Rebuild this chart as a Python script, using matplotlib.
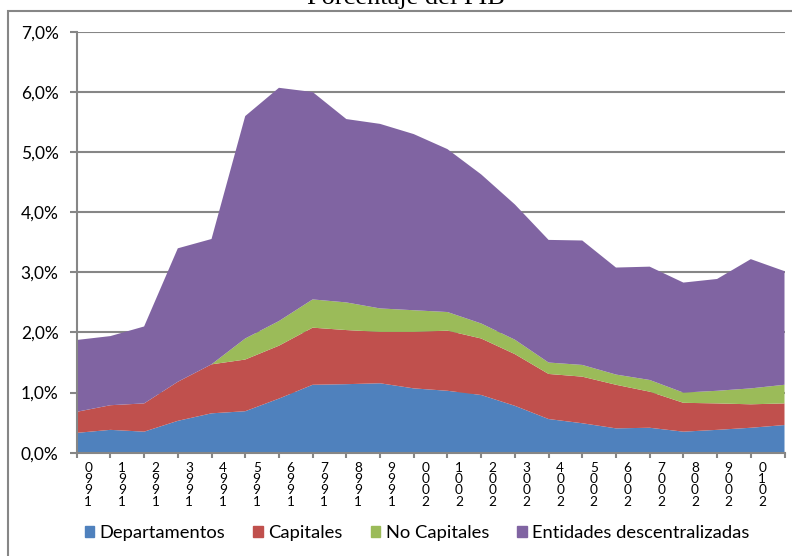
import matplotlib.pyplot as plt
import matplotlib.patches as mpatches
from matplotlib.transforms import ScaledTranslation
from matplotlib.ticker import FuncFormatter

# --- Datos (% del PIB) ---
anios = list(range(1990, 2012))
departamentos = [0.33, 0.38, 0.35, 0.53, 0.655, 0.69, 0.90, 1.13, 1.14, 1.155, 1.07,
                 1.03, 0.96, 0.78, 0.56, 0.49, 0.405, 0.415, 0.35, 0.38, 0.415, 0.46]
capitales = [0.35, 0.41, 0.47, 0.65, 0.815, 0.86, 0.88, 0.95, 0.90, 0.855, 0.94,
             1.00, 0.94, 0.86, 0.75, 0.775, 0.725, 0.60, 0.48, 0.44, 0.39, 0.36]
no_capitales = [0, 0, 0, 0, 0, 0.35, 0.41, 0.47, 0.46, 0.39, 0.36,
                0.31, 0.25, 0.24, 0.19, 0.195, 0.17, 0.195, 0.17, 0.21, 0.265, 0.31]
entidades = [1.195, 1.15, 1.28, 2.22, 2.085, 3.70, 3.88, 3.45, 3.05, 3.07, 2.93,
             2.71, 2.48, 2.25, 2.04, 2.07, 1.78, 1.885, 1.83, 1.86, 2.15, 1.89]

series = ["Departamentos", "Capitales", "No Capitales", "Entidades descentralizadas"]
colores = ["#4F81BD", "#C0504D", "#9BBB59", "#8064A2"]
GRIS = "#868686"

plt.rcParams['font.family'] = ['Lato', 'DejaVu Sans']

fig = plt.figure(figsize=(7.92, 5.56), dpi=100)
ax = fig.add_axes([76.7 / 792, 1 - 452.7 / 556, (784.5 - 76.7) / 792, (452.7 - 31.9) / 556])

x = list(range(len(anios)))
ax.stackplot(x, departamentos, capitales, no_capitales, entidades,
             colors=colores, linewidth=0, zorder=2)

ax.set_xlim(0, len(anios) - 1)
ax.set_ylim(0, 7)
ax.set_yticks(range(0, 8))
ax.yaxis.set_major_formatter(FuncFormatter(lambda v, p: f"{v:.1f}%".replace(".", ",")))
ax.grid(axis='y', color=GRIS, linewidth=1.5)
ax.set_axisbelow(True)

for s in ['top', 'right']:
    ax.spines[s].set_visible(False)
for s in ['left', 'bottom']:
    ax.spines[s].set_color(GRIS)
    ax.spines[s].set_linewidth(1.5)
    ax.spines[s].set_zorder(3)

ax.tick_params(axis='y', length=5, width=1.5, color=GRIS, pad=8, labelsize=12.5)
ax.tick_params(axis='x', length=3.6, width=1.5, color=GRIS, pad=3, labelsize=9.8)

# etiquetas de año con los dígitos apilados
ax.set_xticks(x)
ax.set_xticklabels(["\n".join(str(a)[::-1]) for a in anios], linespacing=0.93)
desplaza = ScaledTranslation(11.5 / 100, 0, fig.dpi_scale_trans)
for lbl in ax.get_xticklabels():
    lbl.set_transform(lbl.get_transform() + desplaza)

# título y marco del gráfico
fig.text(406 / 792, 1 - 4 / 556, "Porcentaje del PIB", family='Liberation Serif',
         fontsize=19, ha='center', va='baseline')
fig.patches.append(mpatches.Rectangle((8 / 792, -0.2), 1.2, 1.2 - 10.5 / 556,
                                      transform=fig.transFigure, fill=False,
                                      edgecolor=GRIS, linewidth=1.5))

handles = [mpatches.Patch(color=c, label=n) for c, n in zip(colores, series)]
fig.legend(handles=handles, loc='center', bbox_to_anchor=(417 / 792, 1 - 533 / 556),
           ncol=4, frameon=False, fontsize=13.2, handlelength=0.5, handleheight=0.5,
           handletextpad=0.3, columnspacing=1.55)

fig.savefig("out.png", dpi=100)
